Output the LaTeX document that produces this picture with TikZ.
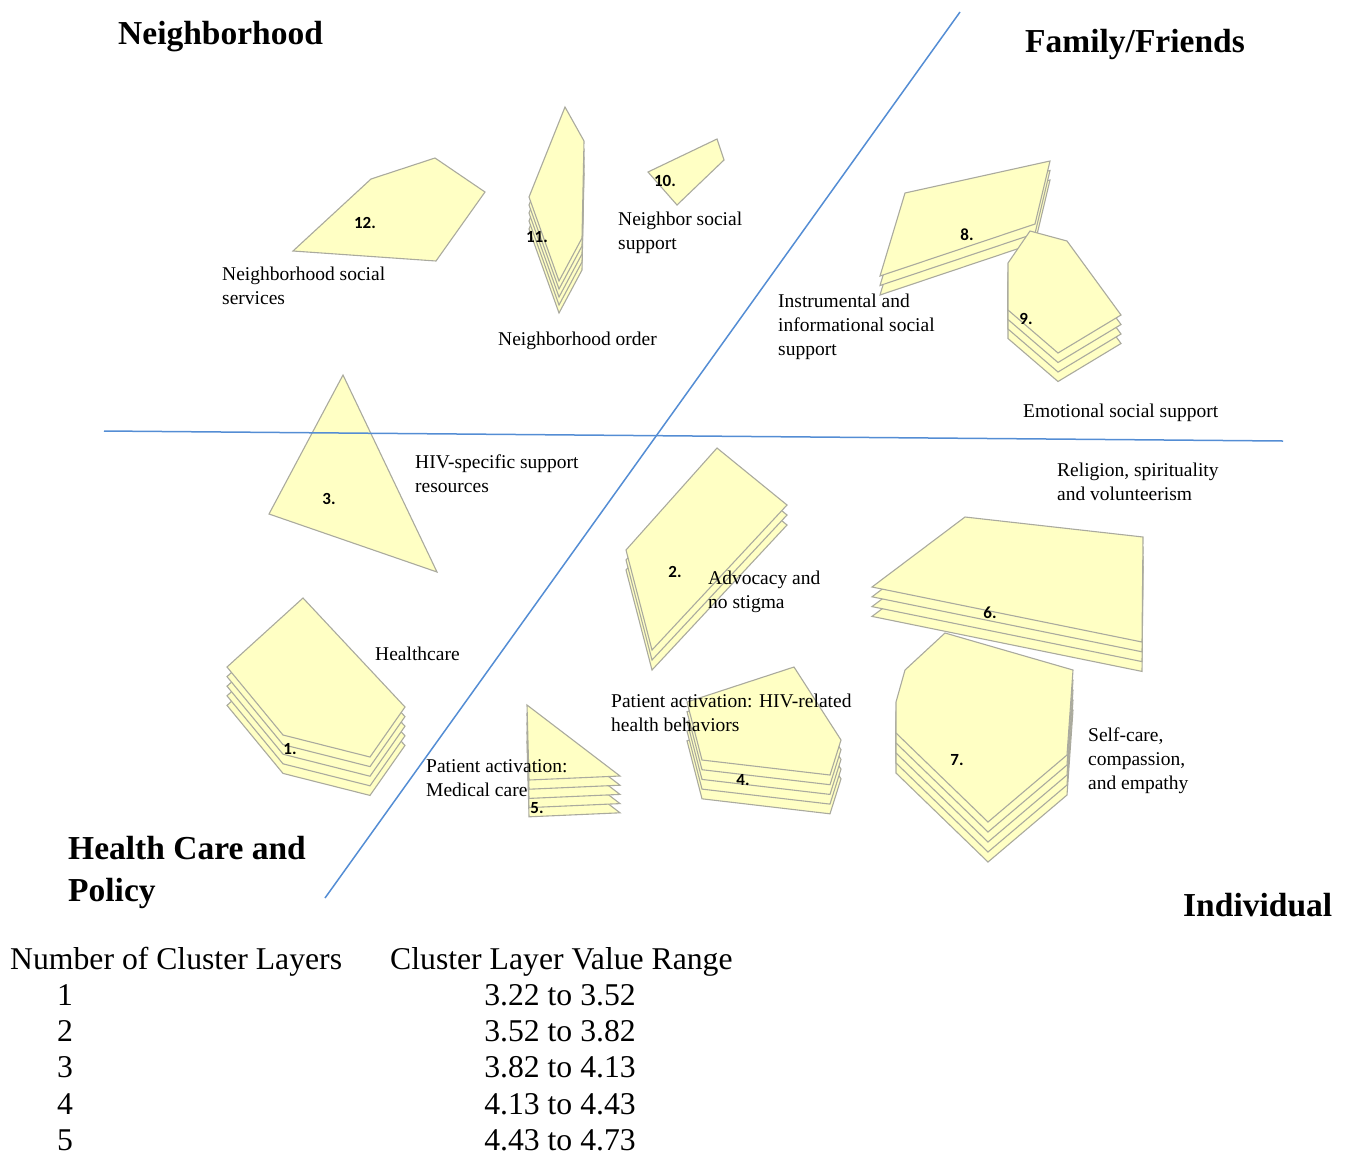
\documentclass[tikz,border=0pt]{standalone}
\usepackage{fontspec}
\setmainfont{Liberation Serif}
\newfontfamily\clusterfont{Carlito}
\usepackage{tikz}
\usetikzlibrary{positioning}
\definecolor{sheetyellow}{RGB}{255,255,196}
\definecolor{sheetedge}{RGB}{170,170,158}
\definecolor{dividerblue}{RGB}{84,141,212}
\tikzset{
    cluster face/.style={fill=sheetyellow,draw=sheetedge,line width=1.1pt,line join=miter},
    cluster num/.style={font=\clusterfont\bfseries\fontsize{17}{17}\selectfont,inner sep=0pt},
    cluster label/.style={font=\fontsize{19.5}{24}\selectfont,align=left,anchor=west,inner sep=0pt,yshift=-3pt},
    quadrant heading/.style={font=\bfseries\fontsize{33.5}{42}\selectfont,align=left,anchor=west,inner sep=0pt,yshift=-3pt},
    divider/.style={draw=dividerblue,line width=1.5pt},
    legend text/.style={font=\fontsize{31.7}{36}\selectfont,inner sep=0pt},
}
% #1 sheets, #2 drop per sheet, #3 outline of the top sheet
\newcommand{\stackedcluster}[3]{%
    \foreach \lay in {#1,...,1}{
        \pgfmathsetmacro\laydrop{(\lay-1)*#2}
        \draw[cluster face,yshift=-\laydrop pt] #3 -- cycle;
    }}

\begin{document}
\begin{tikzpicture}[x=1pt,y=-1pt]
    \useasboundingbox (0,0) rectangle (1351,1157);

    \stackedcluster{1}{0}{(371,179) -- (435,158) -- (485,192) -- (436,261) -- (293,251)}
    \stackedcluster{5}{8}{(565,107) -- (584,141) -- (582,238) -- (559,281) -- (529,197)}
    \stackedcluster{1}{0}{(648,172) -- (717,139) -- (724,160) -- (677,205)}
    \stackedcluster{3}{9.5}{(905,193) -- (1050,161) -- (1035,224) -- (880,276)}
    \stackedcluster{4}{9.5}{(1030,231) -- (1067,241) -- (1121,315) -- (1058,353) -- (1008,310) -- (1008,263)}
    \stackedcluster{1}{0}{(343,375) -- (437,572) -- (269,514)}
    \stackedcluster{3}{10}{(717,448) -- (787,505) -- (652,650) -- (626,550)}
    \stackedcluster{5}{9.6}{(303,598) -- (405,707) -- (370,757) -- (283,735) -- (227,667)}
    \stackedcluster{5}{9.2}{(527,705) -- (620,776) -- (529,780)}
    \stackedcluster{5}{9.7}{(687,702) -- (794,667) -- (841,740) -- (830,775) -- (702,760)}
    \stackedcluster{5}{10}{(945,633) -- (1073,670) -- (1067,755) -- (988,822) -- (896,733) -- (896,702) -- (905,670)}
    \stackedcluster{4}{9.8}{(965,517) -- (1143,537) -- (1142,642) -- (872,587)}

    % quadrant dividers
    \coordinate (westend) at (104,431);
    \coordinate (eastend) at (1283,441);
    \coordinate (topend) at (960,12);
    \coordinate (lowend) at (325,898);
    \draw[divider] (westend) -- (eastend);
    \draw[divider] (topend) -- (lowend);

    \node[cluster num] (c1) at (290,749) {1.};
    \node[cluster num] (c2) at (675,572) {2.};
    \node[cluster num] (c3) at (329,499) {3.};
    \node[cluster num] (c4) at (743,780) {4.};
    \node[cluster num] (c5) at (537,808) {5.};
    \node[cluster num] (c6) at (990,613) {6.};
    \node[cluster num] (c7) at (957,760) {7.};
    \node[cluster num] (c8) at (967,235) {8.};
    \node[cluster num] (c9) at (1026,319) {9.};
    \node[cluster num] (c10) at (665,181) {10.};
    \node[cluster num] (c11) at (537,237) {11.};
    \node[cluster num] (c12) at (365,223) {12.};

    \node[cluster label] (healthcare) at (375,651) {Healthcare};
    \node[cluster label] (advocacy) at (708,589) {Advocacy and\\no stigma};
    \node[cluster label] (hivsupport) at (415,471) {HIV-specific support\\resources};
    \node[cluster label] (hivbehav) at (611,710) {Patient activation: HIV-related\\health behaviors};
    \node[cluster label] (medcare) at (426,775) {Patient activation:\\Medical care};
    \node[cluster label] (religion) at (1057,479) {Religion, spirituality\\and volunteerism};
    \node[cluster label] (selfcare) at (1088,758) {Self-care,\\compassion,\\and empathy};
    \node[cluster label] (instrum) at (778,324) {Instrumental and\\informational social\\support};
    \node[cluster label] (emotional) at (1023,410) {Emotional social support};
    \node[cluster label] (nbsupport) at (618,230) {Neighbor social\\support};
    \node[cluster label] (nborder) at (498,338) {Neighborhood order};
    \node[cluster label] (nbservices) at (222,283) {Neighborhood social\\services};

    \node[quadrant heading] (neighborhood) at (118,34) {Neighborhood};
    \node[quadrant heading] (family) at (1025,41) {Family/Friends};
    \node[quadrant heading] (healthpolicy) at (68,869) {Health Care and\\Policy};
    \node[quadrant heading] (individual) at (1183,902) {Individual};

    % legend
    \node[legend text,anchor=west] (layerhead) at (10,962) {Number of Cluster Layers};
    \node[legend text,anchor=west] (rangehead) at (390,962) {Cluster Layer Value Range};
    \foreach \n/\lo/\hi in {1/3.22/3.52,2/3.52/3.82,3/3.82/4.13,4/4.13/4.43,5/4.43/4.73}{
        \node[legend text] (layers\n) at (65,{995+(\n-1)*36.3}) {\n};
        \node[legend text] (range\n) at (560,{995+(\n-1)*36.3}) {\lo{} to \hi};
    }
\end{tikzpicture}
\end{document}
